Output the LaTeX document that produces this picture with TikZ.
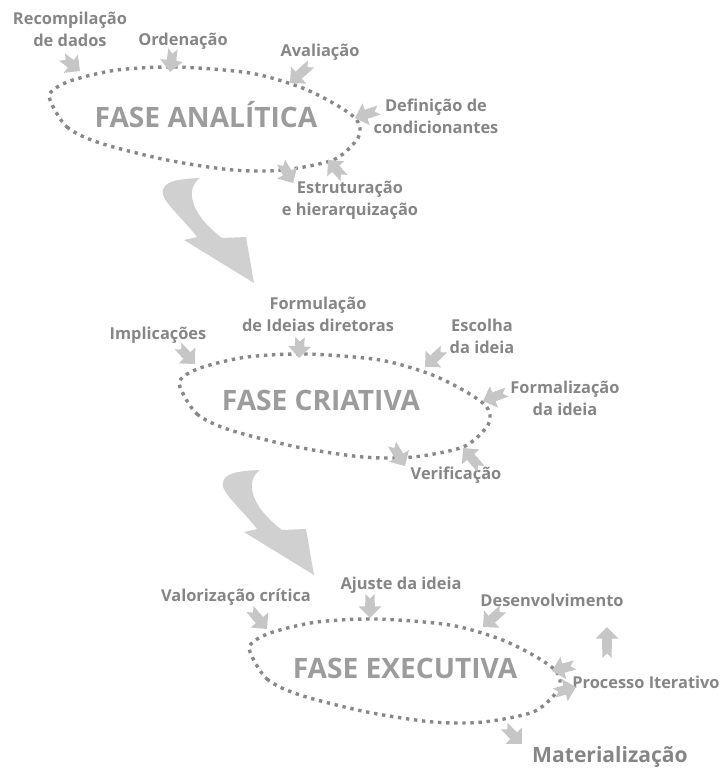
\documentclass[tikz,border=0pt]{standalone}
\usepackage{fontspec}
\setmainfont{Open Sans}
\usetikzlibrary{arrows.meta}

\definecolor{labelgray}{HTML}{868686}
\definecolor{fasegray}{HTML}{9C9C9C}
\definecolor{dotgray}{HTML}{888888}
\definecolor{arrowgray}{HTML}{C6C6C6}
\definecolor{biggray}{HTML}{D0D0D0}

\tikzset{
  lbl/.style={font=\bfseries\fontsize{14}{19}\selectfont, text=labelgray, align=center, inner sep=0pt},
  fase/.style={font=\bfseries\fontsize{24}{28}\selectfont, text=fasegray, inner sep=0pt},
  loopdots/.style={dotgray, line width=2.9pt, dash pattern=on 2.9pt off 4pt},
  smallarrow/.style={arrowgray, line width=8pt, {Triangle Cap[reversed]}-{Triangle[length=10pt,width=19pt]}},
  faseloop/.pic={
    \draw[loopdots] plot[smooth cycle] coordinates {(50,100) (67,127) (100,143) (167,160) (233,170)
      (283,170) (333,160) (356,141) (360,128) (354,117) (333,103) (300,87) (250,73)
      (177,67) (117,70) (73,80) (53,90)};
  },
  bigarrow/.pic={
    \fill[biggray] (200,178) .. controls (186,188) and (188,212) .. (222,238) -- (246,237)
      -- (254,283) -- (184,240) -- (197,237) .. controls (180,215) and (160,200) .. (163,190)
      .. controls (165,182) and (175,179) .. (200,178) -- cycle;
  }
}

\begin{document}
\begin{tikzpicture}[x=0.03cm, y=-0.03cm]

      \useasboundingbox (0,0) rectangle (720,770);

      % loops and phase arrows
      \pic at (0,0)     {faseloop};
      \pic at (130,287) {faseloop};
      \pic at (200,552) {faseloop};

      \pic at (0,0)    {bigarrow};
      \pic at (60,292) {bigarrow};

      \node[fase] (ana) at (206,115) {FASE ANALÍTICA};
      \node[fase] (cri) at (321,400) {FASE CRIATIVA};
      \node[fase] (exe) at (405,668) {FASE EXECUTIVA};

      \begin{scope}[every node/.style={lbl}]
        \node (rec) at (70,29)   {Recompilação\\de dados};
        \node (ord) at (183,41)  {Ordenação};
        \node (ava) at (320,52)  {Avaliação};
        \node (def) at (436,116) {Definição de\\condicionantes};
        \node (est) at (350,200) {Estruturação\\e hierarquização};

        \node (for) at (318,314) {Formulação\\de Ideias diretoras};
        \node (imp) at (158,335) {Implicações};
        \node (esc) at (482,336) {Escolha\\da ideia};
        \node (fml) at (565,398) {Formalização\\da ideia};
        \node (ver) at (456,475) {Verificação};

        \node (val) at (236,597) {Valorização crítica};
        \node (aju) at (401,585) {Ajuste da ideia};
        \node (des) at (552,600) {Desenvolvimento};
        \node (pro) at (646,682) {Processo Iterativo};
        \node[font=\bfseries\fontsize{18}{20}\selectfont] (mat) at (610,757) {Materialização};
      \end{scope}

      % arrow ends
      \coordinate (rec1) at (62,57);   \coordinate (rec2) at (80,71);
      \coordinate (ord1) at (173,49);  \coordinate (ord2) at (170,72);
      \coordinate (ava1) at (311,64);  \coordinate (ava2) at (290,83);
      \coordinate (def1) at (379,110); \coordinate (def2) at (355,118);
      \coordinate (est1) at (281,162); \coordinate (est2) at (293,183);
      \coordinate (est3) at (344,178); \coordinate (est4) at (328,160);

      \coordinate (imp1) at (178,346); \coordinate (imp2) at (195,364);
      \coordinate (for1) at (300,337); \coordinate (for2) at (299,358);
      \coordinate (esc1) at (444,349); \coordinate (esc2) at (425,367);
      \coordinate (fml1) at (507,392); \coordinate (fml2) at (483,401);
      \coordinate (ver1) at (392,444); \coordinate (ver2) at (405,466);
      \coordinate (ver3) at (481,469); \coordinate (ver4) at (463,448);

      \coordinate (val1) at (250,609); \coordinate (val2) at (267,629);
      \coordinate (aju1) at (370,594); \coordinate (aju2) at (370,618);
      \coordinate (des1) at (503,609); \coordinate (des2) at (483,627);
      \coordinate (pro1) at (575,665); \coordinate (pro2) at (552,671);
      \coordinate (pro3) at (554,693); \coordinate (pro4) at (576,687);
      \coordinate (pro5) at (607,658); \coordinate (pro6) at (607,627);
      \coordinate (mat1) at (504,726); \coordinate (mat2) at (522,744);

      \foreach \a/\b in {rec1/rec2, ord1/ord2, ava1/ava2, def1/def2, est1/est2, est3/est4,
                         imp1/imp2, for1/for2, esc1/esc2, fml1/fml2, ver1/ver2, ver3/ver4,
                         val1/val2, aju1/aju2, des1/des2, pro1/pro2, pro3/pro4, pro5/pro6, mat1/mat2}
        \draw[smallarrow] (\a) -- (\b);

    \end{tikzpicture}
\end{document}
